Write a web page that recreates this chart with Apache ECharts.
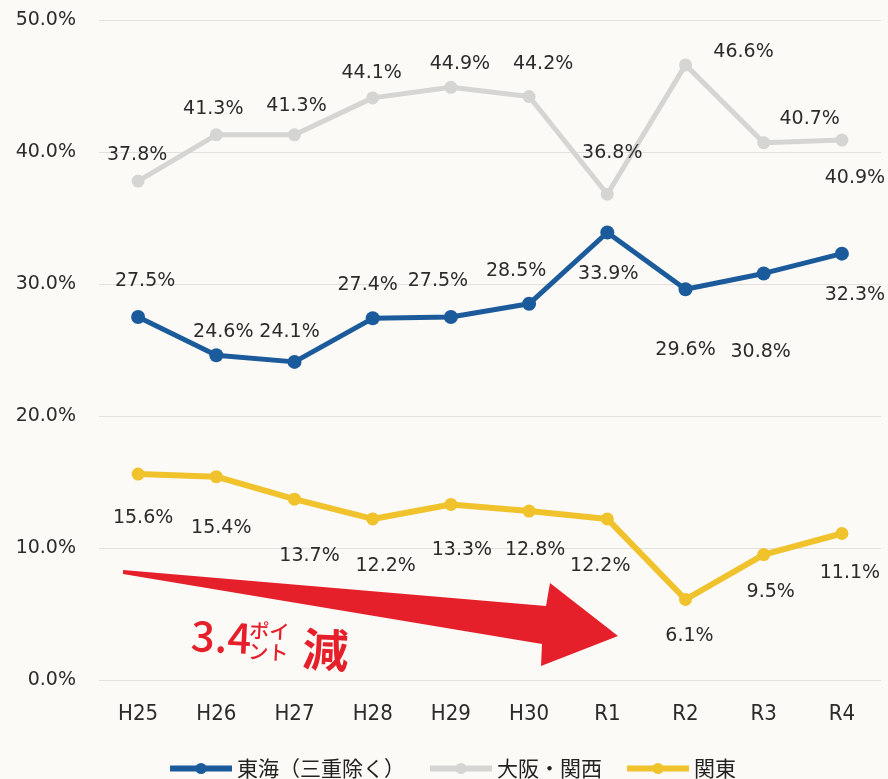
<!DOCTYPE html>
<html>
<head>
<meta charset="utf-8">
<script src="https://cdn.jsdelivr.net/npm/echarts@6/dist/echarts.min.js"></script>
<style>
html, body { margin: 0; padding: 0; background: #fbfaf6; }
#chart { width: 888px; height: 779px; }
</style>
</head>
<body>
<div id="chart"></div>
<script>
// data (%)
const years = ['H25', 'H26', 'H27', 'H28', 'H29', 'H30', 'R1', 'R2', 'R3', 'R4']
const tokai = [27.5, 24.6, 24.1, 27.4, 27.5, 28.5, 33.9, 29.6, 30.8, 32.3]
const kansai = [37.8, 41.3, 41.3, 44.1, 44.9, 44.2, 36.8, 46.6, 40.7, 40.9]
const kanto = [15.6, 15.4, 13.7, 12.2, 13.3, 12.8, 12.2, 6.1, 9.5, 11.1]
const yTicks = [0, 10, 20, 30, 40, 50]

// where each value label sits relative to its point (px)
const tokaiOff = [[7, -36], [7, -23], [-5, -30], [-5, -33], [-13, -36], [-13, -33], [1, 42], [0, 61], [-3, 79], [13, 41]]
const kansaiOff = [[-1, -26], [-3, -26], [2, -29], [-1, -25], [9, -23], [14, -32], [5, -41], [58, -13], [46, -24], [13, 38]]
const kantoOff = [[5, 44], [5, 51], [15, 57], [13, 47], [11, 46], [6, 39], [-7, 47], [4, 37], [7, 37], [8, 40]]

const blue = '#1c5b9b'
const gray = '#d5d5d3'
const yellow = '#f0c22c'
const red = '#e5202a'

const labelFont = { fontFamily: 'DejaVu Sans', fontSize: 19, color: '#2b2b2b' }

function withLabels(values, offs) {
  return values.map((v, i) => ({
    value: v,
    label: { offset: offs[i] }
  }))
}

function makeSeries(name, values, offs, color, lineW, symSize) {
  return {
    name: name,
    type: 'line',
    data: withLabels(values, offs),
    symbol: 'circle',
    symbolSize: symSize,
    itemStyle: { color: color },
    lineStyle: { color: color, width: lineW },
    label: {
      show: true,
      position: 'inside',
      align: 'center',
      verticalAlign: 'middle',
      formatter: p => p.value.toFixed(1) + '%',
      ...labelFont
    },
    emphasis: { disabled: true },
    animation: false
  }
}

let chart = echarts.init(document.getElementById('chart'))

let option = {
  backgroundColor: '#fbfaf6',
  grid: {
    left: 99,
    right: 7,
    top: 20,
    bottom: 99
  },
  xAxis: {
    type: 'category',
    data: years,
    boundaryGap: true,
    axisLine: { show: false },
    axisTick: { show: false },
    axisLabel: {
      margin: 23,
      fontFamily: "'Liberation Sans Narrow', 'DejaVu Sans Condensed', sans-serif",
      fontSize: 22,
      color: '#2b2b2b'
    }
  },
  yAxis: {
    type: 'value',
    min: yTicks[0],
    max: yTicks[yTicks.length - 1],
    interval: 10,
    axisLine: { show: false },
    axisTick: { show: false },
    splitLine: { lineStyle: { color: '#e4e1dc', width: 1 } },
    axisLabel: {
      margin: 23,
      formatter: v => v.toFixed(1) + '%',
      ...labelFont
    }
  },
  legend: {
    left: 162,
    top: 753,
    itemWidth: 62,
    itemHeight: 14,
    itemGap: 22,
    lineStyle: { width: 6 },
    textStyle: {
      fontFamily: 'Noto Sans CJK JP',
      fontSize: 21,
      color: '#222'
    },
    data: ['東海（三重除く）', '大阪・関西', '関東']
  },
  series: [
    makeSeries('大阪・関西', kansai, kansaiOff, gray, 5, 13),
    makeSeries('関東', kanto, kantoOff, yellow, 6, 13),
    makeSeries('東海（三重除く）', tokai, tokaiOff, blue, 5, 14)
  ],
  graphic: [
    {
      type: 'polygon',
      z: 10,
      shape: {
        points: [[123, 570], [546, 606], [550, 583], [618, 636], [541, 666], [542, 644], [123, 574]]
      },
      style: { fill: red }
    },
    {
      type: 'group',
      x: 190,
      y: 656,
      rotation: -0.05,
      z: 10,
      children: [
        { type: 'text', x: 0, y: 0, style: { text: '3.4', fill: red, font: '500 42px "Noto Sans CJK JP"', textVerticalAlign: 'bottom' } },
        { type: 'text', x: 58, y: -19, style: { text: 'ポイ', fill: red, font: '500 20px "Noto Sans CJK JP"', textVerticalAlign: 'bottom' } },
        { type: 'text', x: 58, y: 2, style: { text: 'ント', fill: red, font: '500 20px "Noto Sans CJK JP"', textVerticalAlign: 'bottom' } },
        { type: 'text', x: 112, y: 10, style: { text: '減', fill: red, font: 'bold 46px "Noto Sans CJK JP"', textVerticalAlign: 'bottom' } }
      ]
    }
  ]
}

chart.setOption(option)
</script>
</body>
</html>
